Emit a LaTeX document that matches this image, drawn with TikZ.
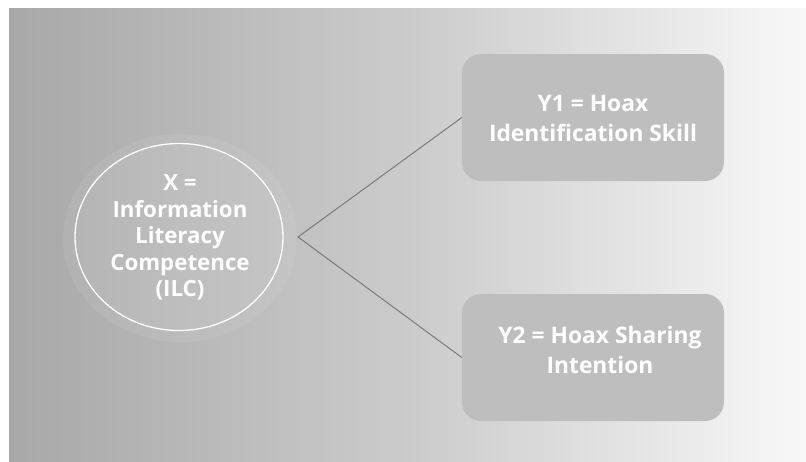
\documentclass[tikz,border=0pt]{standalone}
\usepackage{fontspec}
\setmainfont{Open Sans}
\usetikzlibrary{shapes.geometric}
\definecolor{bgL}{HTML}{A8A8A8}
\definecolor{bgM}{HTML}{CBCBCB}
\definecolor{bgR}{HTML}{F8F8F8}
\definecolor{boxfill}{HTML}{BEBEBE}
\definecolor{linec}{HTML}{7A7A7A}
\tikzset{
  boxnode/.style={rectangle, rounded corners=19pt, fill=boxfill, minimum width=262pt, minimum height=127pt, inner sep=0pt},
  boxtext/.style={text=white, align=center, font=\bfseries\fontsize{22.8}{30}\selectfont},
  circtext/.style={text=white, align=center, font=\bfseries\fontsize{22.3}{26.5}\selectfont},
  conn/.style={draw=linec, line width=1pt}
}
\begin{document}
\begin{tikzpicture}[x=1pt,y=-1pt]
\useasboundingbox (0,0) rectangle (806,461);
\fill[white] (0,0) rectangle (806,461);
\shade[left color=bgL, right color=bgR, middle color=bgM] (9,8) rectangle (806,461);
\node[ellipse, fill=white, fill opacity=0.07, minimum width=234pt, minimum height=208pt, inner sep=0pt] (halo) at (180,238) {};
\node[ellipse, draw=white, line width=1.3pt, fill=white, fill opacity=0.03, draw opacity=1, minimum width=208pt, minimum height=187pt, inner sep=0pt] (X) at (179,237) {};
\node[circtext] (Xt) at (180,237.5) {X =\\Information\\Literacy\\Competence\\(ILC)};
\node[boxnode] (Y1) at (593,117.5) {};
\node[boxnode] (Y2) at (593,357.5) {};
\node[boxtext] (Y1t) at (593,118) {Y1 = Hoax\\Identification Skill};
\node[boxtext] (Y2t) at (600,350) {Y2 = Hoax Sharing\\Intention};
\coordinate (v) at (298,237);
\draw[conn] (Y1.west) -- (v) -- (Y2.west);
\end{tikzpicture}
\end{document}
